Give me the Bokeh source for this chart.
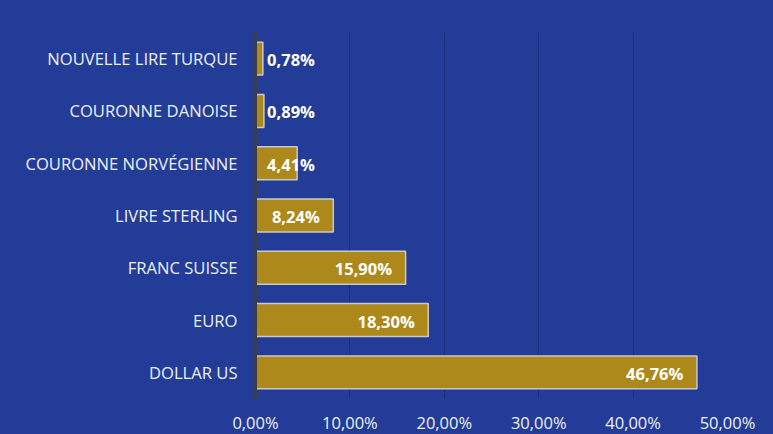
from bokeh.plotting import figure
from bokeh.models import ColumnDataSource, FactorRange, Range1d, FixedTicker
from bokeh.core.properties import value
from bokeh.embed import file_html
from bokeh.resources import INLINE

# Data (top to bottom as shown in the chart)
currencies = ["NOUVELLE LIRE TURQUE", "COURONNE DANOISE", "COURONNE NORVÉGIENNE",
              "LIVRE STERLING", "FRANC SUISSE", "EURO", "DOLLAR US"]
shares = [0.78, 0.89, 4.41, 8.24, 15.90, 18.30, 46.76]
share_labels = ["0,78%", "0,89%", "4,41%", "8,24%", "15,90%", "18,30%", "46,76%"]
tick_values = [0, 10, 20, 30, 40, 50]
tick_labels = ["0,00%", "10,00%", "20,00%", "30,00%", "40,00%", "50,00%"]

BG = "#223c97"
BAR = "#b38c16"

label_x = [max(v - 1.43, 6.3) for v in shares]
src = ColumnDataSource(dict(cat=currencies, val=shares, lab=share_labels, lx=label_x))

p = figure(frame_width=472, frame_height=366, output_backend="svg", toolbar_location=None,
           y_range=FactorRange(*reversed(currencies)), x_range=Range1d(0, 50),
           min_border_left=255, min_border_right=46, min_border_top=32, min_border_bottom=0)
p.background_fill_color = BG
p.border_fill_color = BG
p.outline_line_color = None

p.hbar(y="cat", right="val", left=0, height=0.63, source=src,
       fill_color=BAR, fill_alpha=0.96, line_color="#c9c9c9", line_width=1.5)

p.text(x="lx", y="cat", text="lab", source=src, text_align="right", text_baseline="middle",
       text_color="white", text_font=value("Open Sans"), text_font_style="bold",
       text_font_size="16.5px", y_offset=1)

p.xgrid.ticker = FixedTicker(ticks=tick_values)
p.xgrid.grid_line_color = "#17296e"
p.xgrid.grid_line_alpha = 0.7
p.ygrid.grid_line_color = None

xa = p.xaxis[0]
xa.ticker = FixedTicker(ticks=tick_values)
xa.major_label_overrides = {t: s for t, s in zip(tick_values, tick_labels)}
xa.axis_line_color = None
xa.major_tick_line_color = None
xa.major_tick_out = 0
xa.major_tick_in = 0
xa.minor_tick_line_color = None
xa.major_label_standoff = 12
xa.major_label_text_color = "#eef0f8"
xa.major_label_text_font = "Open Sans"
xa.major_label_text_font_size = "16.5px"

ya = p.yaxis[0]
ya.axis_line_color = "#3b3d4c"
ya.axis_line_width = 3
ya.major_tick_line_color = None
ya.major_tick_out = 0
ya.major_tick_in = 0
ya.minor_tick_line_color = None
ya.major_label_standoff = 18
ya.major_label_text_color = "#eef0f8"
ya.major_label_text_font = "Open Sans"
ya.major_label_text_font_size = "16.6px"

html = file_html(p, INLINE)
html = html.replace("<head>", "<head><style>html,body{margin:0;padding:0;background:%s;overflow:hidden}</style>" % BG, 1)
open("out.html", "w").write(html)
